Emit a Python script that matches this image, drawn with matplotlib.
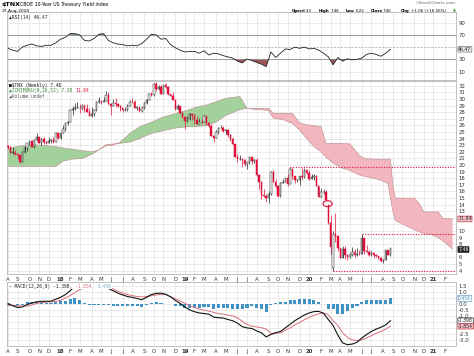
import matplotlib
matplotlib.use("Agg")
import matplotlib.pyplot as plt
import matplotlib.dates as mdates
import matplotlib.transforms as mtransforms
from matplotlib.patches import Ellipse
import numpy as np
import pandas as pd

W, H = 474, 356
RED = "#e0103a"

# weekly $TNX candles: open, high, low, close (first week ends 4-Aug-2017)
tnx_weekly = [
    (22.9, 23.0, 22.4, 22.7), (22.7, 22.9, 21.8, 21.9), (21.9, 22.8, 21.7, 21.9), (21.9, 22.3, 21.6, 21.7),
    (21.7, 21.8, 20.9, 21.6), (21.6, 21.6, 20.3, 20.5), (20.5, 22.1, 20.5, 22.0), (22.0, 22.9, 21.9, 22.6),
    (22.6, 23.4, 22.2, 23.3), (23.3, 23.7, 23.0, 23.6), (23.6, 23.8, 22.7, 22.7), (22.7, 23.9, 22.6, 23.8),
    (23.8, 24.8, 23.6, 24.2), (24.2, 24.3, 23.3, 23.4), (23.4, 24.1, 23.1, 24.0), (24.0, 24.2, 23.2, 23.5),
    (23.5, 23.7, 23.2, 23.4), (23.4, 24.3, 23.3, 23.6), (23.6, 24.0, 23.3, 23.8), (23.8, 24.2, 23.4, 23.5),
    (23.5, 24.9, 23.5, 24.8), (24.8, 24.9, 24.0, 24.1),
    # 2018
    (24.1, 24.8, 24.0, 24.8), (24.8, 26.0, 24.8, 25.5), (25.5, 26.4, 25.1, 26.4), (26.4, 26.7, 26.1, 26.6),
    (26.6, 28.5, 26.6, 28.4), (28.4, 28.9, 27.6, 28.5), (28.5, 29.4, 28.4, 28.7), (28.7, 29.6, 28.6, 28.7),
    (28.7, 29.2, 27.9, 28.6), (28.6, 29.2, 28.3, 28.9), (28.9, 29.2, 28.1, 28.5), (28.5, 29.2, 28.0, 28.1),
    (28.1, 28.6, 27.4, 27.4), (27.4, 28.8, 27.3, 27.7), (27.7, 28.5, 27.5, 28.3), (28.3, 29.6, 28.2, 29.6),
    (29.6, 30.3, 29.4, 29.6), (29.6, 29.9, 29.3, 29.5), (29.5, 30.3, 29.5, 29.7), (29.7, 31.3, 29.7, 30.6),
    (30.6, 31.0, 29.3, 29.3), (29.3, 29.4, 27.6, 29.0), (29.0, 30.0, 28.9, 29.4), (29.4, 30.1, 28.8, 29.2),
    (29.2, 29.4, 28.8, 29.0), (29.0, 29.1, 28.2, 28.6), (28.6, 28.7, 28.1, 28.3), (28.3, 28.8, 28.2, 28.3),
    (28.3, 29.2, 28.2, 28.9), (28.9, 29.9, 28.9, 29.6), (29.6, 30.1, 29.4, 29.5), (29.5, 29.9, 28.6, 28.7),
    (28.7, 28.9, 28.3, 28.7), (28.7, 28.9, 28.1, 28.2), (28.2, 28.9, 28.1, 28.6), (28.6, 29.5, 28.5, 29.4),
    (29.4, 30.0, 29.2, 29.9), (29.9, 30.9, 29.9, 30.7), (30.7, 31.1, 30.5, 30.6), (30.6, 32.5, 30.5, 32.3),
    (32.3, 32.6, 31.3, 31.6), (31.6, 32.1, 31.4, 31.9), (31.9, 32.1, 30.8, 30.8), (30.8, 32.2, 30.8, 32.1),
    (32.1, 32.5, 31.7, 31.9), (31.9, 32.0, 30.6, 30.8), (30.8, 30.8, 30.4, 30.5), (30.5, 31.0, 29.9, 29.9),
    (29.9, 30.0, 28.3, 28.5), (28.5, 29.2, 28.4, 28.9), (28.9, 29.0, 27.7, 27.9), (27.9, 28.1, 27.2, 27.3),
    # 2019
    (27.3, 27.4, 25.5, 26.7), (26.7, 27.5, 26.6, 27.0), (27.0, 27.9, 26.8, 27.8), (27.8, 27.9, 26.9, 27.6),
    (27.6, 27.7, 26.3, 26.9), (26.9, 27.4, 26.3, 26.3), (26.3, 27.2, 26.2, 26.6), (26.6, 27.0, 26.2, 26.5),
    (26.5, 27.6, 26.5, 27.5), (27.5, 27.5, 26.1, 26.4), (26.4, 26.6, 25.8, 25.9), (25.9, 26.3, 24.4, 24.4),
    (24.4, 24.6, 23.5, 24.1), (24.1, 25.3, 24.1, 25.0), (25.0, 25.7, 24.7, 25.6), (25.6, 26.0, 25.6, 25.6),
    (25.6, 25.9, 25.0, 25.1), (25.1, 25.5, 24.7, 25.3), (25.3, 25.4, 24.2, 24.6), (24.6, 24.7, 23.6, 23.9),
    (23.9, 24.3, 23.1, 23.2), (23.2, 23.2, 21.3, 21.3), (21.3, 21.7, 20.5, 20.9), (20.9, 21.5, 20.8, 20.9),
    (20.9, 21.0, 19.7, 20.7), (20.7, 20.9, 19.8, 20.1), (20.1, 20.5, 19.4, 20.4), (20.4, 21.2, 20.2, 21.2),
    (21.2, 21.2, 20.2, 20.6), (20.6, 20.9, 20.3, 20.8), (20.8, 21.1, 18.4, 18.5), (18.5, 18.6, 16.4, 17.4),
    (17.4, 17.6, 14.8, 15.5), (15.5, 16.4, 15.1, 15.3), (15.3, 15.6, 14.4, 15.0), (15.0, 16.1, 14.3, 15.6),
    (15.6, 19.1, 15.5, 19.0), (19.0, 19.2, 17.4, 17.4), (17.4, 17.9, 16.6, 16.9), (16.9, 17.0, 15.1, 15.3),
    (15.3, 17.5, 15.1, 17.3), (17.3, 17.9, 17.3, 17.5), (17.5, 18.1, 17.4, 18.0), (18.0, 18.6, 16.9, 17.1),
    (17.1, 19.7, 17.1, 19.4), (19.4, 19.5, 17.9, 18.3), (18.3, 18.3, 17.3, 17.7), (17.7, 17.9, 17.4, 17.8),
    (17.8, 18.4, 17.0, 18.4), (18.4, 19.5, 17.8, 18.2), (18.2, 19.5, 18.1, 19.2), (19.2, 19.4, 18.6, 18.8),
    # 2020
    (18.8, 19.3, 17.8, 17.9), (17.9, 18.7, 17.9, 18.2), (18.2, 18.6, 17.8, 18.3), (18.3, 18.5, 16.8, 16.8),
    (16.8, 16.9, 15.1, 15.1), (15.1, 16.6, 15.1, 15.9), (15.9, 16.4, 15.6, 15.9), (15.9, 16.2, 14.6, 14.7),
    (14.0, 14.0, 11.0, 11.3), (11.3, 12.5, 6.6, 7.6), (4.4, 10.0, 3.98, 9.6), (9.6, 12.8, 8.4, 9.2),
    (9.2, 9.2, 7.0, 7.4), (7.4, 7.5, 5.9, 5.9), (5.9, 7.8, 5.9, 7.3), (7.3, 7.7, 5.8, 6.4),
    (6.4, 6.6, 5.6, 6.0), (6.0, 6.7, 5.9, 6.4), (6.4, 7.6, 6.2, 6.8), (6.8, 7.3, 6.0, 6.4),
    (6.4, 7.4, 6.2, 6.6), (6.6, 7.1, 6.4, 6.5), (6.5, 9.6, 6.5, 9.0), (9.0, 9.0, 6.6, 7.0),
    (7.0, 7.9, 6.8, 6.9), (6.9, 7.2, 6.3, 6.4), (6.4, 7.0, 6.3, 6.7), (6.7, 6.8, 5.9, 6.4),
    (6.4, 6.5, 6.0, 6.3), (6.3, 6.3, 5.7, 5.9), (5.9, 6.0, 5.3, 5.5), (5.5, 5.8, 5.1, 5.6),
    (5.6, 7.2, 5.6, 7.1), (7.1, 7.1, 6.4, 6.4), (6.33, 7.46, 6.22, 7.46),
]

# Ichimoku cloud edges (span A, span B)
cloud_dates = [
    "2017-08-04", "2017-09-08", "2017-10-13", "2017-11-17", "2017-12-22", "2018-01-12",
    "2018-02-09", "2018-03-09", "2018-04-06", "2018-04-27", "2018-05-18", "2018-06-08",
    "2018-06-29", "2018-07-27", "2018-08-24", "2018-09-28", "2018-11-02", "2018-12-07",
    "2019-01-11", "2019-02-08", "2019-03-08", "2019-04-05", "2019-05-03", "2019-06-14",
    "2019-07-05", "2019-08-02", "2019-09-06", "2019-09-20", "2019-10-18", "2019-11-15",
    "2019-12-06", "2019-12-27", "2020-01-17", "2020-02-07", "2020-02-21", "2020-03-13",
    "2020-04-10", "2020-05-01", "2020-05-29", "2020-06-12", "2020-07-10", "2020-07-31",
    "2020-08-21", "2020-08-28", "2020-09-04", "2020-09-11", "2020-10-09", "2020-11-06",
    "2020-11-20", "2020-12-04", "2020-12-25", "2021-01-15", "2021-01-29", "2021-02-12",
    "2021-02-26",
]
span_a = [
    22.5, 22.9, 23.1, 23.0, 22.8, 22.6, 22.4, 22.2, 22.0, 22.3, 22.9, 23.0,
    23.5, 24.8, 25.8, 26.5, 27.3, 27.8, 28.3, 28.8, 29.1, 29.6, 30.1, 30.4,
    28.6, 28.4, 28.3, 27.1, 26.9, 26.3, 25.3, 24.0, 22.8, 22.0, 21.2, 20.3,
    19.5, 19.2, 18.5, 18.3, 18.0, 17.7, 17.2, 15.0, 13.0, 11.6, 10.9, 10.2,
    9.9, 9.6, 9.5, 9.0, 8.5, 7.9, 7.28,
]
span_b = [
    19.8, 19.8, 19.8, 19.8, 19.8, 20.6, 20.9, 21.0, 21.6, 22.3, 23.1, 23.2,
    23.3, 23.5, 24.0, 24.8, 25.2, 25.6, 25.8, 25.8, 26.0, 26.5, 27.5, 28.4,
    28.6, 28.6, 28.6, 27.85, 27.85, 27.85, 26.4, 26.1, 26.0, 25.8, 23.3, 23.3,
    23.3, 23.2, 21.5, 21.0, 20.9, 20.9, 20.9, 20.9, 17.0, 15.0, 15.0, 15.0,
    14.2, 12.9, 12.9, 12.9, 11.9, 11.85, 11.84,
]

# RSI(14) and MACD(12,26,9), every other week
rsi_14 = [
    48, 45, 43, 50, 53, 55, 52, 51, 53, 53, 57, 63, 66, 72, 72, 70, 61, 60, 64, 71,
    72, 61, 57, 55, 54, 52, 53, 52, 56, 63, 71, 70, 63, 64, 54, 49, 45, 42, 43, 43,
    40, 44, 37, 40, 39, 36, 34, 32, 27, 24, 30.5, 28, 25, 22, 18, 42, 33, 40, 47, 46,
    50, 48, 50, 47, 48, 45, 40, 34, 21, 33, 27, 31, 29, 30, 32, 38, 40, 38, 35, 40,
    46.47,
]
macd_line = [
    0.0, -0.15, -0.30, -0.25, -0.05, 0.08, 0.18, 0.22, 0.22, 0.22, 0.40, 0.55, 0.78, 1.10,
    1.45, 1.55, 1.45, 1.40, 1.38, 1.33, 1.35, 1.30, 1.10, 0.90, 0.75, 0.62, 0.55, 0.45,
    0.35, 0.55, 0.78, 0.88, 0.90, 0.80, 0.60, 0.30, 0.05, -0.25, -0.50, -0.65, -0.75, -0.80,
    -0.85, -1.10, -1.15, -1.18, -1.30, -1.40, -1.60, -1.90, -2.00, -2.05, -2.25, -2.40, -2.75, -2.55,
    -2.40, -2.30, -2.00, -1.70, -1.40, -1.15, -0.92, -0.75, -0.64, -0.62, -0.78, -1.30, -1.80, -2.60,
    -3.25, -3.40, -3.35, -3.20, -2.85, -2.55, -2.30, -2.10, -1.95, -1.75, -1.398,
]
macd_signal = [
    -0.10, -0.12, -0.15, -0.18, -0.18, -0.10, 0.05, 0.10, 0.15, 0.18, 0.22, 0.30, 0.50, 0.70,
    0.95, 1.20, 1.35, 1.45, 1.45, 1.43, 1.40, 1.38, 1.25, 1.05, 0.90, 0.78, 0.70, 0.62,
    0.58, 0.62, 0.68, 0.75, 0.80, 0.80, 0.60, 0.45, 0.25, 0.05, -0.15, -0.30, -0.42, -0.52,
    -0.60, -0.70, -0.80, -0.85, -0.93, -1.00, -1.15, -1.45, -1.70, -1.85, -1.92, -1.98, -2.10, -2.45,
    -2.45, -2.42, -2.20, -2.00, -1.75, -1.55, -1.32, -1.12, -0.95, -0.82, -0.76, -0.90, -1.40, -1.80,
    -2.40, -2.80, -3.00, -3.05, -3.00, -2.85, -2.65, -2.45, -2.30, -2.10, -1.854,
]

# support / resistance marks drawn on the chart
level_values = [19.65, 9.6, 3.98]
level_starts = ["2019-11-08", "2020-06-05", "2020-03-13"]

weeks = pd.date_range("2017-08-04", periods=len(tnx_weekly), freq="W-FRI")
fridays = pd.date_range("2017-08-04", "2021-02-26", freq="W-FRI")
X0, X1 = 7.3, 456.0
xlim = (mdates.date2num(pd.Timestamp("2017-08-02")), mdates.date2num(pd.Timestamp("2021-03-08")))
MONO = "DejaVu Sans Mono"
LSZ = 3.3
CW = 0.602 * LSZ * 100 / 72 / (X1 - X0)   # one mono character, in axes fraction

fig = plt.figure(figsize=(W / 100, H / 100), dpi=100)
fig.patch.set_facecolor("white")


def panel(top, bottom):
    return fig.add_axes([X0 / W, 1 - bottom / H, (X1 - X0) / W, (bottom - top) / H])


def ftext(x, y, s, **kw):
    kw.setdefault("va", "center")
    kw.setdefault("size", 3.6)
    return fig.text(x / W, 1 - y / H, s, **kw)


def legend(ax, y, parts, box=False):
    col = 0
    for s, color in parts:
        kw = dict(bbox=dict(fc="white", ec="none", pad=0.5)) if box else {}
        ax.text(0.004 + col * CW, y, s, transform=ax.transAxes, ha="left", va="top",
                family=MONO, size=LSZ, color=color, zorder=10, **kw)
        col += len(s)


ticks = [d for k, d in enumerate(fridays) if k == 0 or d.month != fridays[k - 1].month]
tick_x = mdates.date2num(ticks)
tick_lbl = [f"{d.year % 100}" if d.month == 1 else "JFMAMJJASOND"[d.month - 1] for d in ticks]


def style(ax, labels):
    ax.set_xlim(*xlim)
    ax.set_xticks(tick_x)
    ax.grid(True, axis="x", color="#e3e3e3", lw=0.5)
    ax.set_axisbelow(True)
    for s in ax.spines.values():
        s.set_color("#b5b5b5")
        s.set_linewidth(0.6)
    ax.yaxis.tick_right()
    ax.tick_params(length=0, labelsize=3.9, pad=2, colors="#333333")
    if labels:
        ax.set_xticklabels(tick_lbl)
        for t, d in zip(ax.get_xticklabels(), ticks):
            if d.month == 1:
                t.set_fontweight("bold")
    else:
        ax.set_xticklabels([])


def value_box(ax, v, s, fc, ec, tc="#222222", dy=0.0):
    tr = mtransforms.blended_transform_factory(ax.transAxes, ax.transData)
    ax.text(1.005, v + dy, s, transform=tr, ha="left", va="center", size=3.3, color=tc,
            bbox=dict(boxstyle="round,pad=0.08", fc=fc, ec=ec, lw=0.5), clip_on=False, zorder=10)


# ---- RSI panel
ax_r = panel(12, 80)
style(ax_r, False)
ax_r.set_ylim(-3.9, 107.5)
ax_r.set_yticks([10, 30, 70, 90])
for lv in (10, 90):
    ax_r.axhline(lv, color="#e3e3e3", lw=0.5, zorder=0)
ax_r.axhline(70, color="#8a8a8a", lw=0.6)
ax_r.axhline(30, color="#8a8a8a", lw=0.6)
ax_r.axhline(50, color="#a0a0a0", lw=0.5, ls=(0, (3, 2)))
rx = mdates.date2num(weeks[::2])
rsi = np.array(rsi_14, dtype=float)
ax_r.fill_between(rx, rsi, 30, where=rsi < 30, interpolate=True, color="#9a5656", lw=0)
ax_r.fill_between(rx, rsi, 70, where=rsi > 70, interpolate=True, color="#5c8f5c", lw=0)
ax_r.plot(rx, rsi, color="#222222", lw=0.6)
value_box(ax_r, rsi[-1], "46.47", "#e6e6e6", "#808080")
legend(ax_r, 0.95, [("\u25b2RSI(14) 46.47", "#222222")])

# ---- price panel
ax_p = panel(81, 274)
style(ax_p, True)
ax_p.set_ylim(3.5, 32.74)
grid_levels = np.arange(4, 33)
ax_p.set_yticks([v for v in grid_levels if v not in (7, 11, 12)])
for lv in grid_levels:
    ax_p.axhline(lv, color="#e3e3e3", lw=0.5, zorder=0)

cx = mdates.date2num(pd.to_datetime(cloud_dates))
a = np.array(span_a)
b = np.array(span_b)
ax_p.fill_between(cx, a, b, where=a >= b, interpolate=True, color="#a3d19b", lw=0, zorder=1)
ax_p.fill_between(cx, a, b, where=a < b, interpolate=True, color="#f2b6be", lw=0, zorder=1)
ax_p.plot(cx, a, color="#b98a8a", lw=0.4, zorder=1)
ax_p.plot(cx, b, color="#b98a8a", lw=0.4, zorder=1)

o, h, l, c = np.array(tnx_weekly).T
px = mdates.date2num(weeks)
prev = np.r_[o[0], c[:-1]]
cols = np.where(c >= prev, "#222222", RED)
face = np.where(c >= o, "white", cols)
ax_p.vlines(px, l, h, colors=cols, lw=0.5, zorder=3)
ax_p.bar(px, np.maximum(np.abs(c - o), 0.08), bottom=np.minimum(o, c), width=4.2,
         color=face, edgecolor=cols, lw=0.35, zorder=4)

for v, s in zip(level_values, level_starts):
    ax_p.hlines(v, mdates.date2num(pd.Timestamp(s)), xlim[1], colors=RED, lw=0.8,
                linestyles=(0, (1, 1.4)), zorder=5)
ax_p.add_patch(Ellipse((mdates.date2num(pd.Timestamp("2020-02-26")), 14.15), 27, 0.9,
                       fc="none", ec=RED, lw=0.8, zorder=6))

value_box(ax_p, span_b[-1], "11.84", "#f4c2c7", "#c03a4a")
value_box(ax_p, c[-1], "7.46", "#222222", "#222222", tc="white", dy=-0.25)

legend(ax_p, 0.988, [("\u25a0$TNX (Weekly) 7.46", "#222222")])
legend(ax_p, 0.962, [("\u25b2ICHIMOKU(9,26,52) 7.28 ", "#3c8a3c"), ("11.84", RED)])
legend(ax_p, 0.936, [("\u25e2Volume undef", "#555555")])

# ---- MACD panel
ax_m = panel(282, 346)
style(ax_m, True)
ax_m.set_ylim(-3.51, 1.83)
ax_m.set_yticks([1.5, 1.0, 0.0, -0.5, -1.0, -2.5, -3.0])
ax_m.set_yticklabels(["1.5", "1.0", "0.0", "-0.5", "-1.0", "-2.5", "-3.0"])
for lv in np.arange(-3.0, 1.6, 0.5):
    ax_m.axhline(lv, color="#e3e3e3", lw=0.5, zorder=0)
mx = mdates.date2num(weeks[::2])
ml = np.array(macd_line)
ms = np.array(macd_signal)
ax_m.bar(mx, ml - ms, width=9, color="#3f93c4", lw=0, zorder=2)
ax_m.plot(mx, ms, color="#d9707a", lw=0.7, zorder=3)
ax_m.plot(mx, ml, color="#111111", lw=0.8, zorder=4)
value_box(ax_m, ml[-1] - ms[-1], "0.456", "white", "#6aa0c8", tc="#3f93c4")
value_box(ax_m, ml[-1], "-1.398", "white", "#222222")
value_box(ax_m, ms[-1], "-1.854", "#f4c2c7", "#c03a4a")
legend(ax_m, 0.975, [("\u2014 MACD(12,26,9) -1.398, ", "#222222"), ("-1.854, ", "#d9707a"),
                     ("0.456", "#7fb3d5")], box=True)

# ---- header
ftext(2, 4.5, "$TNX", weight="bold", size=4.6)
ftext(19.5, 4.5, "CBOE 10-Year US Treasury Yield Index", size=3.4)
ftext(2, 11, "27-Aug-2020", size=3.2)
ftext(455, 3.5, "\u00a9StockCharts.com", ha="right", size=3.2, color="#666666")
for x, s, bold in [(292, "Open", True), (303, "6.33", False), (319, "High", True), (331, "7.46", False),
                   (346, "Low", True), (356, "6.22", False), (370.5, "Close", True), (383, "7.46", False),
                   (400.5, "Chg", True), (411, "+1.06 (+16.56%)", False)]:
    ftext(x, 11, s, size=2.9, weight="bold" if bold else "normal")
ftext(453, 11, "\u25b2", size=2.8, color="#2a9a2a")

fig.savefig("out.png", dpi=100)
